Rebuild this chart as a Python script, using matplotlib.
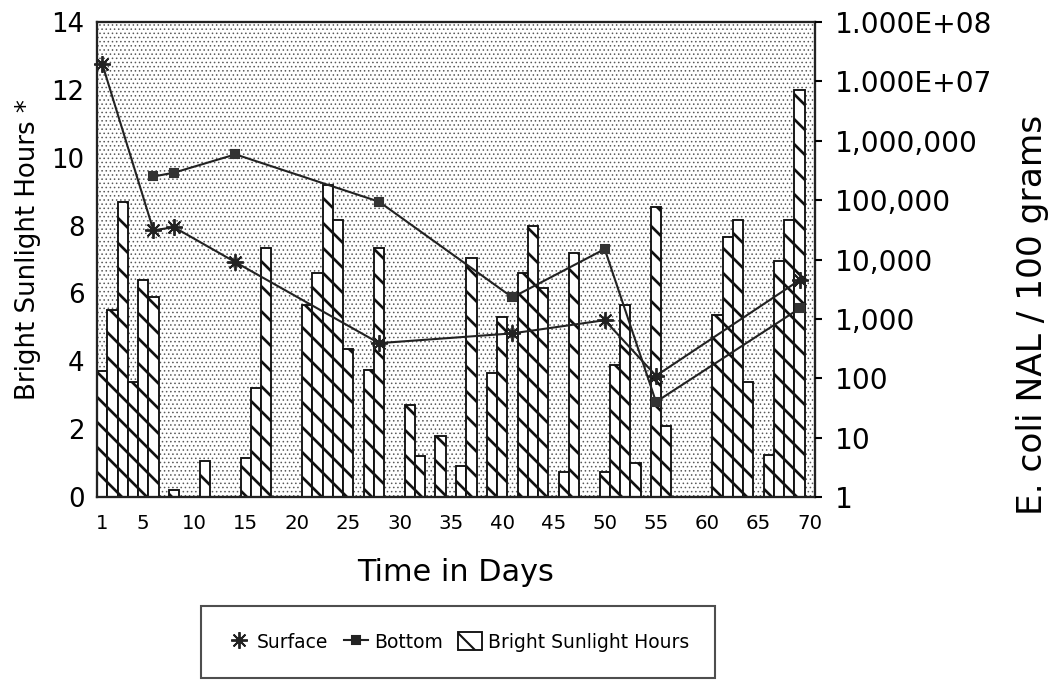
import matplotlib
matplotlib.use("Agg")
import matplotlib.pyplot as plt
from matplotlib.lines import Line2D
from matplotlib.patches import Patch, Rectangle
import numpy as np

# ---------------- data ----------------
sun_days = [1, 2, 3, 4, 5, 6, 8, 11, 15, 16, 17, 21, 22, 23, 24, 25, 27, 28, 31, 32,
            34, 36, 37, 39, 40, 42, 43, 44, 46, 47, 50, 51, 52, 53, 55, 56, 61, 62,
            63, 64, 66, 67, 68, 69]
sun_hours = [3.7, 5.5, 8.7, 3.4, 6.4, 5.9, 0.2, 1.05, 1.15, 3.2, 7.35, 5.65, 6.6, 9.2,
             8.15, 4.35, 3.75, 7.35, 2.7, 1.2, 1.8, 0.9, 7.05, 3.65, 5.3, 6.6, 8.0,
             6.15, 0.75, 7.2, 0.75, 3.9, 5.65, 1.0, 8.55, 2.1, 5.35, 7.65, 8.15, 3.4,
             1.25, 6.95, 8.15, 12.0]

surface_days = [1, 6, 8, 14, 28, 41, 50, 55, 69]
surface_vals = [2.0e7, 3.1e4, 3.5e4, 9.0e3, 390, 570, 950, 110, 4.5e3]

bottom_days = [6, 8, 14, 28, 41, 50, 55, 69]
bottom_vals = [2.5e5, 2.9e5, 5.9e5, 9.4e4, 2.3e3, 1.5e4, 40, 1.5e3]

x_ticks = [1, 5, 10, 15, 20, 25, 30, 35, 40, 45, 50, 55, 60, 65, 70]
left_ticks = [0, 2, 4, 6, 8, 10, 12, 14]
right_ticks = [1, 10, 100, 1e3, 1e4, 1e5, 1e6, 1e7, 1e8]
right_labels = ["1", "10", "100", "1,000", "10,000", "100,000", "1,000,000",
                "1.000E+07", "1.000E+08"]

# ---------------- figure ----------------
plt.rcParams['font.family'] = ['DejaVu Sans']
DPI = 150
fig = plt.figure(figsize=(1055 / DPI, 681 / DPI), dpi=DPI)
ax = fig.add_axes([97 / 1055, 1 - 497 / 681, (815 - 97) / 1055, 475 / 681])

ax.set_facecolor('white')
# dotted background texture
with plt.rc_context({'hatch.linewidth': 0.4}):
    bg = Rectangle((0, 0), 1, 1, transform=ax.transAxes, facecolor='white',
                   edgecolor='#5a5a5a', linewidth=0, hatch='......', zorder=0)
ax.add_patch(bg)

with plt.rc_context({'hatch.linewidth': 1.3}):
    ax.bar(sun_days, sun_hours, width=1.0, facecolor='white', edgecolor='#111111',
           linewidth=0.9, hatch='\\\\', zorder=2)

ax.set_xlim(0.5, 70.5)
ax.set_ylim(0, 14)
ax.set_xticks(x_ticks)
ax.set_xticklabels([str(t) for t in x_ticks], fontsize=9.5)
ax.set_yticks(left_ticks)
ax.set_yticklabels([str(t) for t in left_ticks], fontsize=12.5)
ax.tick_params(axis='x', length=0, pad=8)
ax.tick_params(axis='y', length=0, pad=6)
for s in ax.spines.values():
    s.set_linewidth(1.1)
    s.set_color('#222222')

ax.set_xlabel("Time in Days", fontsize=14.5, labelpad=12)
ax.set_ylabel("Bright Sunlight Hours *", fontsize=12.5)
ax.yaxis.set_label_coords((41 - 97) / 718, 0.52)

ax2 = ax.twinx()
ax2.set_yscale('log')
ax2.set_ylim(1, 1e8)
ax2.plot(surface_days, surface_vals, color='#222222', linewidth=1.0,
         marker=(8, 2, 0), markersize=8, markeredgewidth=0.9,
         markeredgecolor='#222222', zorder=3, clip_on=False)
ax2.plot(bottom_days, bottom_vals, color='#222222', linewidth=1.0,
         marker='s', markersize=3.8, markerfacecolor='#333333',
         markeredgecolor='#333333', zorder=3)
ax2.set_yticks(right_ticks)
ax2.set_yticklabels(right_labels, fontsize=13.5)
ax2.yaxis.set_minor_locator(matplotlib.ticker.NullLocator())
ax2.tick_params(axis='y', length=3.5, width=1.0, pad=6)
ax2.set_ylabel("E. coli NAL / 100 grams", fontsize=16.5)
ax2.yaxis.set_label_coords((1016 - 97) / 718, (497 - 315) / 475)
for s in ax2.spines.values():
    s.set_visible(False)

# legend
handles = [
    Line2D([], [], linestyle='none', marker=(8, 2, 0), markersize=8,
           markeredgewidth=0.9, color='#222222'),
    Line2D([], [], color='#222222', linewidth=1.0, marker='s', markersize=3.8),
    Patch(facecolor='white', edgecolor='#111111', hatch='\\\\', linewidth=0.9),
]
labels = ["Surface", "Bottom", "Bright Sunlight Hours"]
leg = fig.legend(handles, labels, loc='center', bbox_to_anchor=(458 / 1055, 1 - 642 / 681),
                 ncol=3, fontsize=9, frameon=True, fancybox=False, edgecolor='#222222',
                 borderpad=1.4, handlelength=1.3, handleheight=1.1, handletextpad=0.3,
                 columnspacing=0.8, numpoints=1)
leg.get_frame().set_linewidth(1.0)

fig.savefig("out.png", dpi=DPI)
